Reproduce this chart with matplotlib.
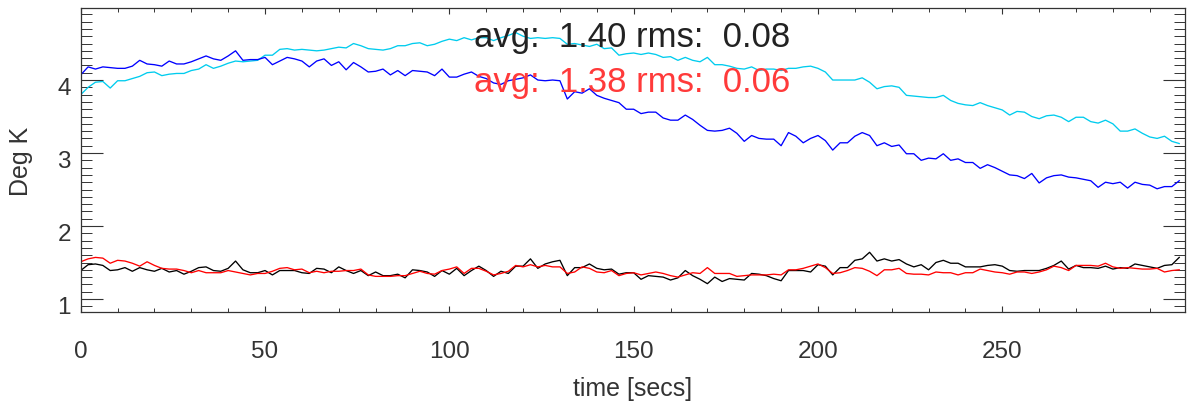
import matplotlib
matplotlib.use("Agg")
import matplotlib.pyplot as plt
from matplotlib.ticker import MultipleLocator, FixedLocator
from matplotlib.transforms import ScaledTranslation

plt.rcParams['font.family'] = ['Liberation Sans', 'DejaVu Sans']

# sample times (s), every 2 s
time_s = list(range(0, 300, 2))

blue_vals = [
    4.07, 4.18, 4.15, 4.18, 4.17, 4.16, 4.16, 4.19, 4.27, 4.22,
    4.21, 4.19, 4.26, 4.22, 4.22, 4.25, 4.29, 4.33, 4.29, 4.27,
    4.33, 4.40, 4.27, 4.28, 4.28, 4.31, 4.21, 4.26, 4.31, 4.29,
    4.26, 4.18, 4.26, 4.29, 4.20, 4.25, 4.14, 4.24, 4.18, 4.11,
    4.12, 4.15, 4.07, 4.13, 4.06, 4.13, 4.12, 4.11, 4.06, 4.15,
    4.04, 4.04, 4.08, 4.11, 4.05, 4.02, 3.96, 3.94, 3.99, 4.01,
    4.03, 4.07, 4.00, 3.99, 4.00, 3.99, 3.74, 3.84, 3.82, 3.88,
    3.79, 3.75, 3.72, 3.69, 3.60, 3.60, 3.54, 3.56, 3.56, 3.48,
    3.45, 3.45, 3.52, 3.46, 3.38, 3.31, 3.30, 3.31, 3.34, 3.27,
    3.16, 3.24, 3.20, 3.19, 3.19, 3.10, 3.28, 3.23, 3.14, 3.20,
    3.24, 3.17, 3.04, 3.14, 3.14, 3.23, 3.28, 3.24, 3.10, 3.14,
    3.09, 3.11, 2.99, 2.99, 2.90, 2.93, 2.92, 2.99, 2.90, 2.92,
    2.87, 2.87, 2.79, 2.84, 2.80, 2.75, 2.70, 2.69, 2.65, 2.72,
    2.59, 2.66, 2.69, 2.70, 2.67, 2.66, 2.64, 2.62, 2.53, 2.60,
    2.58, 2.60, 2.52, 2.60, 2.57, 2.56, 2.51, 2.54, 2.54, 2.62,
]

cyan_vals = [
    3.80, 3.90, 3.97, 3.98, 3.89, 3.99, 3.99, 4.02, 4.05, 4.10,
    4.11, 4.06, 4.08, 4.09, 4.09, 4.13, 4.15, 4.21, 4.16, 4.19,
    4.23, 4.26, 4.25, 4.26, 4.27, 4.34, 4.34, 4.42, 4.43, 4.41,
    4.42, 4.41, 4.40, 4.41, 4.43, 4.45, 4.44, 4.50, 4.47, 4.43,
    4.42, 4.41, 4.43, 4.47, 4.47, 4.50, 4.51, 4.47, 4.49, 4.53,
    4.56, 4.54, 4.58, 4.55, 4.58, 4.58, 4.54, 4.58, 4.61, 4.65,
    4.60, 4.57, 4.58, 4.57, 4.58, 4.57, 4.49, 4.50, 4.48, 4.46,
    4.49, 4.43, 4.44, 4.34, 4.36, 4.37, 4.35, 4.37, 4.35, 4.31,
    4.32, 4.27, 4.31, 4.27, 4.25, 4.31, 4.21, 4.21, 4.19, 4.16,
    4.15, 4.18, 4.13, 4.15, 4.15, 4.13, 4.16, 4.16, 4.18, 4.19,
    4.16, 4.11, 4.00, 4.00, 4.00, 4.00, 4.03, 3.97, 3.88, 3.91,
    3.92, 3.90, 3.79, 3.78, 3.77, 3.76, 3.76, 3.79, 3.72, 3.68,
    3.66, 3.65, 3.69, 3.65, 3.62, 3.59, 3.52, 3.57, 3.56, 3.50,
    3.47, 3.51, 3.52, 3.49, 3.43, 3.49, 3.49, 3.43, 3.41, 3.45,
    3.40, 3.30, 3.30, 3.33, 3.27, 3.22, 3.20, 3.23, 3.16, 3.13,
]

black_vals = [
    1.39, 1.47, 1.48, 1.46, 1.39, 1.40, 1.43, 1.38, 1.43, 1.40,
    1.38, 1.42, 1.37, 1.39, 1.34, 1.38, 1.43, 1.44, 1.39, 1.38,
    1.42, 1.52, 1.40, 1.36, 1.36, 1.39, 1.33, 1.39, 1.39, 1.39,
    1.36, 1.35, 1.42, 1.41, 1.36, 1.44, 1.39, 1.35, 1.39, 1.32,
    1.37, 1.32, 1.32, 1.34, 1.29, 1.40, 1.39, 1.37, 1.31, 1.39,
    1.34, 1.42, 1.32, 1.39, 1.45, 1.39, 1.31, 1.38, 1.35, 1.45,
    1.45, 1.55, 1.42, 1.48, 1.51, 1.53, 1.32, 1.43, 1.43, 1.48,
    1.42, 1.40, 1.41, 1.34, 1.36, 1.36, 1.27, 1.32, 1.31, 1.30,
    1.26, 1.29, 1.39, 1.32, 1.27, 1.21, 1.30, 1.24, 1.28, 1.27,
    1.26, 1.35, 1.34, 1.32, 1.28, 1.25, 1.39, 1.39, 1.39, 1.37,
    1.47, 1.45, 1.33, 1.43, 1.43, 1.53, 1.55, 1.64, 1.52, 1.55,
    1.52, 1.54, 1.48, 1.44, 1.47, 1.40, 1.50, 1.53, 1.49, 1.49,
    1.44, 1.44, 1.44, 1.46, 1.47, 1.45, 1.39, 1.38, 1.39, 1.39,
    1.39, 1.42, 1.46, 1.52, 1.41, 1.46, 1.43, 1.43, 1.42, 1.45,
    1.41, 1.43, 1.42, 1.48, 1.46, 1.44, 1.42, 1.46, 1.47, 1.57,
]

red_vals = [
    1.51, 1.55, 1.57, 1.56, 1.49, 1.53, 1.52, 1.49, 1.45, 1.51,
    1.46, 1.42, 1.41, 1.41, 1.39, 1.36, 1.39, 1.36, 1.36, 1.36,
    1.39, 1.37, 1.35, 1.33, 1.35, 1.35, 1.38, 1.42, 1.43, 1.40,
    1.41, 1.36, 1.38, 1.36, 1.38, 1.38, 1.39, 1.39, 1.41, 1.33,
    1.31, 1.31, 1.31, 1.32, 1.32, 1.35, 1.38, 1.35, 1.34, 1.39,
    1.41, 1.44, 1.35, 1.42, 1.42, 1.38, 1.33, 1.35, 1.38, 1.46,
    1.44, 1.47, 1.44, 1.46, 1.44, 1.44, 1.35, 1.37, 1.44, 1.42,
    1.37, 1.36, 1.39, 1.32, 1.35, 1.36, 1.33, 1.35, 1.37, 1.35,
    1.32, 1.30, 1.33, 1.36, 1.35, 1.43, 1.35, 1.35, 1.35, 1.31,
    1.32, 1.33, 1.33, 1.33, 1.34, 1.33, 1.40, 1.40, 1.42, 1.45,
    1.48, 1.43, 1.35, 1.36, 1.39, 1.43, 1.42, 1.38, 1.32, 1.40,
    1.40, 1.42, 1.35, 1.34, 1.34, 1.33, 1.37, 1.36, 1.36, 1.33,
    1.36, 1.36, 1.41, 1.39, 1.37, 1.36, 1.34, 1.37, 1.37, 1.35,
    1.37, 1.40, 1.45, 1.43, 1.39, 1.46, 1.46, 1.46, 1.45, 1.49,
    1.44, 1.42, 1.43, 1.42, 1.41, 1.41, 1.42, 1.37, 1.39, 1.40,
]

x_major = [0, 50, 100, 150, 200, 250]
y_major = [1, 2, 3, 4]
text_black = 'avg:  1.40 rms:  0.08'
text_red = 'avg:  1.38 rms:  0.06'

fig = plt.figure(figsize=(11.96, 4.02), dpi=100)
ax = fig.add_axes([0.0675, 0.2214, 0.9231, 0.755])

lw = 0.95
ax.plot(time_s, cyan_vals, color='#00ccee', lw=lw)
ax.plot(time_s, blue_vals, color='#0000ff', lw=lw)
ax.plot(time_s, black_vals, color='#000000', lw=lw)
ax.plot(time_s, red_vals, color='#ff0000', lw=lw)

ax.set_xlim(0, 299.5)
ax.set_ylim(0.822, 4.98)

ax.xaxis.set_major_locator(FixedLocator(x_major))
ax.xaxis.set_minor_locator(MultipleLocator(10))
ax.yaxis.set_major_locator(FixedLocator(y_major))
ax.yaxis.set_minor_locator(MultipleLocator(0.1))

edge = '#333333'
for s in ax.spines.values():
    s.set_color(edge)
    s.set_linewidth(0.9)

ax.tick_params(axis='x', which='major', direction='in', top=True, bottom=True,
               length=4.3, width=0.8, color=edge, labelsize=17.5,
               labelcolor='#333333', pad=20)
ax.tick_params(axis='x', which='minor', direction='in', top=True, bottom=True,
               length=2.9, width=0.7, color=edge)
ax.tick_params(axis='y', which='major', direction='in', left=True, right=True,
               length=15.8, width=0.8, color=edge, labelsize=17.5,
               labelcolor='#333333', pad=7)
ax.tick_params(axis='y', which='minor', direction='in', left=True, right=True,
               length=7.9, width=0.7, color=edge)

offset = ScaledTranslation(0, -5 / 100, fig.dpi_scale_trans)
for lab in ax.get_yticklabels():
    lab.set_transform(lab.get_transform() + offset)

ax.set_xlabel('time [secs]', fontsize=18, color='#333333')
ax.xaxis.set_label_coords(0.5, -0.21)
ax.xaxis.label.set_verticalalignment('top')

ax.set_ylabel('Deg K', fontsize=18, color='#333333')
ax.yaxis.set_label_coords(-0.0543, 0.4985)
ax.yaxis.label.set_verticalalignment('center')

ax.text(0.3563, 0.8774, text_black, transform=ax.transAxes, fontsize=25,
        color='#222222', va='baseline', ha='left', zorder=5)
ax.text(0.3563, 0.7292, text_red, transform=ax.transAxes, fontsize=25,
        color='#ff3a3a', va='baseline', ha='left', zorder=5)

fig.savefig('out.png', dpi=100)
